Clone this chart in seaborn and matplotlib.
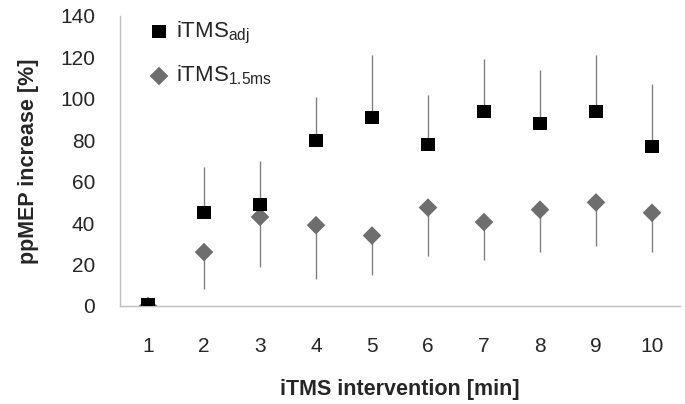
import numpy as np
import pandas as pd
import matplotlib
matplotlib.use("Agg")
import matplotlib.pyplot as plt
import seaborn as sns

# data
minutes = [1, 2, 3, 4, 5, 6, 7, 8, 9, 10]
adj_mean = [0.5, 45, 49, 80, 91, 78, 94, 88, 94, 77]
adj_sd = [0, 22, 21, 21, 30, 24, 25, 26, 27, 30]
ms_mean = [0, 26, 43, 39, 34, 47.5, 40.5, 46.5, 50, 45]
ms_sd = [0, 18, 24, 26, 19, 23.5, 18.5, 20.5, 21, 19]

sns.set_style("white")
plt.rcParams['font.family'] = ['Liberation Sans', 'DejaVu Sans']
plt.rcParams['mathtext.fontset'] = 'custom'
plt.rcParams['mathtext.rm'] = 'Liberation Sans'

df = pd.DataFrame({'minute': minutes, 'adj': adj_mean, 'ms': ms_mean})

fig = plt.figure(figsize=(6.85, 4.04), dpi=100)
ax = fig.add_axes([0.1752, 0.2426, 0.8175, 0.7178])

err_col = '#808080'
# one-sided error bars: up for adj, down for 1.5ms
ax.vlines(df['minute'], df['ms'] - np.array(ms_sd), df['ms'], color=err_col, lw=1, zorder=1)
ax.vlines(df['minute'], df['adj'], df['adj'] + np.array(adj_sd), color=err_col, lw=1, zorder=1)

sns.scatterplot(data=df, x='minute', y='ms', marker='D', s=90, color='#6e6e6e',
                edgecolor='none', ax=ax, zorder=3, label=r'iTMS$_\mathregular{1.5ms}$')
sns.scatterplot(data=df, x='minute', y='adj', marker='s', s=90, color='black',
                edgecolor='none', ax=ax, zorder=4, label=r'iTMS$_\mathregular{adj}$')

ax.set_xlim(0.5, 10.5)
ax.set_ylim(0, 140)
ax.set_yticks(range(0, 141, 20))
ax.set_xticks(minutes)
ax.set_xticks(np.arange(0.5, 11, 1), minor=True)
ax.tick_params(axis='x', which='major', length=0, labelsize=15, pad=22)
ax.tick_params(axis='x', which='minor', length=5, color='#bfbfbf', direction='out')
ax.tick_params(axis='y', length=5, color='#bfbfbf', direction='out', labelsize=15, pad=13)

for s in ['top', 'right']:
    ax.spines[s].set_visible(False)
for s in ['left', 'bottom']:
    ax.spines[s].set_color('#bfbfbf')
    ax.spines[s].set_linewidth(1)

ax.set_xlabel('iTMS intervention [min]', fontsize=15.5, fontweight='bold', labelpad=17)
ax.set_ylabel('ppMEP increase [%]', fontsize=15.5, fontweight='bold', labelpad=15)

h, l = ax.get_legend_handles_labels()
ax.legend(h[::-1], l[::-1], loc='upper left', bbox_to_anchor=(0.03, 1.017), frameon=False,
          fontsize=16, labelspacing=0.8, handletextpad=0.15, handlelength=1.2,
          borderaxespad=0)

fig.savefig('out.png', dpi=100)
